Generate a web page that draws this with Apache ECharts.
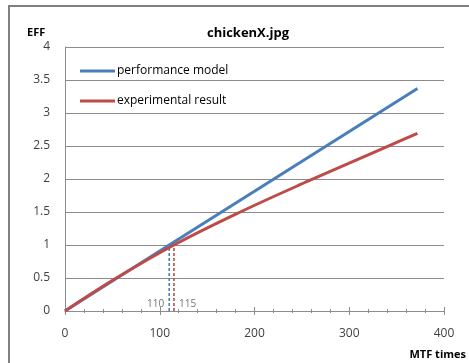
<!DOCTYPE html>
<html>
<head>
<meta charset="utf-8">
<script src="https://cdn.jsdelivr.net/npm/echarts@6/dist/echarts.min.js"></script>
<style>
  html, body { margin: 0; padding: 0; background: #fff; }
  #chart { width: 469px; height: 363px; }
</style>
</head>
<body>
<div id="chart"></div>
<script>
// Performance model (linear) and measured efficiency versus MTF times
const modelX = [0, 110, 331, 372];
const modelY = [0, 1, 3.0, 3.37];
const expX = [0, 52, 115, 185, 257, 343, 372];
const expY = [0, 0.48, 1, 1.5, 1.97, 2.51, 2.69];

// Break-even points where each curve reaches EFF = 1
const modelCross = 110;
const expCross = 115;
const crossEff = 1;

const seriesNames = ['performance model', 'experimental result'];
const xTicks = [0, 100, 200, 300, 400];
const yTicks = [0, 0.5, 1, 1.5, 2, 2.5, 3, 3.5, 4];

const BLUE = '#4a7ebb';
const RED = '#be4b48';
const FONT = '"Open Sans", sans-serif';

const pairs = (xs, ys) => xs.map((x, i) => [x, ys[i]]);

const chart = echarts.init(document.getElementById('chart'), null, { renderer: 'canvas' });

// dashed drop line from the curve down to the x axis
const dropLine = (x, color) => ({
  type: 'line',
  data: [[x, 0], [x, crossEff]],
  symbol: 'none',
  silent: true,
  z: 3,
  lineStyle: { color: color, width: 1.6, type: [3, 2] }
});

// small value tag beside the foot of a drop line
const dropLabel = (x, labelPos) => ({
  type: 'scatter',
  data: [[x, 0]],
  symbolSize: 2,
  silent: true,
  z: 6,
  itemStyle: { color: 'rgba(0,0,0,0)' },
  label: {
    show: true,
    position: labelPos,
    distance: 4,
    offset: [0, -7],
    fontFamily: FONT,
    fontSize: 10,
    color: '#4d4d4d',
    formatter: p => String(p.value[0])
  }
});

chart.setOption({
  animation: false,
  backgroundColor: '#fff',
  textStyle: { fontFamily: FONT },
  title: {
    text: 'chickenX.jpg',
    left: 243,
    top: 22,
    textAlign: 'center',
    textStyle: { fontFamily: FONT, fontSize: 13, fontWeight: 'bold', color: '#000' }
  },
  legend: {
    orient: 'vertical',
    left: 80,
    top: 65,
    padding: 0,
    itemWidth: 35,
    itemHeight: 3,
    itemGap: 18,
    icon: 'rect',
    textStyle: { fontFamily: FONT, fontSize: 12, color: '#000', padding: [0, 0, 0, -3] },
    data: seriesNames
  },
  grid: { left: 65, right: 25, top: 47, bottom: 52 },
  xAxis: [{
    type: 'value',
    min: xTicks[0],
    max: xTicks[xTicks.length - 1],
    interval: 100,
    splitLine: { show: false },
    axisLine: { show: true, lineStyle: { color: '#8c8c8c', width: 1 } },
    axisTick: { show: true, length: 4, lineStyle: { color: '#8c8c8c' } },
    minorTick: { show: true, splitNumber: 5, length: 2, lineStyle: { color: '#8c8c8c' } },
    axisLabel: { margin: 17, fontFamily: FONT, fontSize: 12, color: '#404040' }
  }, {
    // mirrored ticks so they cross the axis line
    type: 'value',
    position: 'bottom',
    min: xTicks[0],
    max: xTicks[xTicks.length - 1],
    interval: 100,
    splitLine: { show: false },
    axisLine: { show: false },
    axisTick: { show: true, inside: true, length: 4, lineStyle: { color: '#8c8c8c' } },
    minorTick: { show: true, splitNumber: 5, length: 2, lineStyle: { color: '#8c8c8c' } },
    axisLabel: { show: false }
  }],
  yAxis: {
    type: 'value',
    min: yTicks[0],
    max: yTicks[yTicks.length - 1],
    interval: 0.5,
    axisLine: { show: true, lineStyle: { color: '#8c8c8c', width: 1 } },
    axisTick: { show: false },
    splitLine: { show: true, lineStyle: { color: '#8c8c8c', width: 1 } },
    axisLabel: { margin: 15, fontFamily: FONT, fontSize: 12, color: '#404040' }
  },
  graphic: [
    {
      type: 'rect',
      shape: { x: 9, y: 6, width: 600, height: 500 },
      style: { fill: 'none', stroke: '#808080', lineWidth: 2 },
      silent: true
    },
    {
      type: 'text',
      left: 27, top: 27,
      style: { text: 'EFF', font: 'bold 11px ' + FONT, fill: '#000' }
    },
    {
      type: 'text',
      right: 3, top: 349,
      style: { text: 'MTF times', font: 'bold 11px ' + FONT, fill: '#000' }
    }
  ],
  series: [
    {
      name: seriesNames[0],
      type: 'line',
      data: pairs(modelX, modelY),
      symbol: 'none',
      z: 4,
      lineStyle: { color: BLUE, width: 3 },
      itemStyle: { color: BLUE }
    },
    {
      name: seriesNames[1],
      type: 'line',
      data: pairs(expX, expY),
      symbol: 'none',
      smooth: 0.4,
      z: 5,
      lineStyle: { color: RED, width: 3 },
      itemStyle: { color: RED }
    },
    dropLine(modelCross, BLUE),
    dropLine(expCross, RED),
    dropLabel(modelCross, 'left'),
    dropLabel(expCross, 'right')
  ]
});
</script>
</body>
</html>
